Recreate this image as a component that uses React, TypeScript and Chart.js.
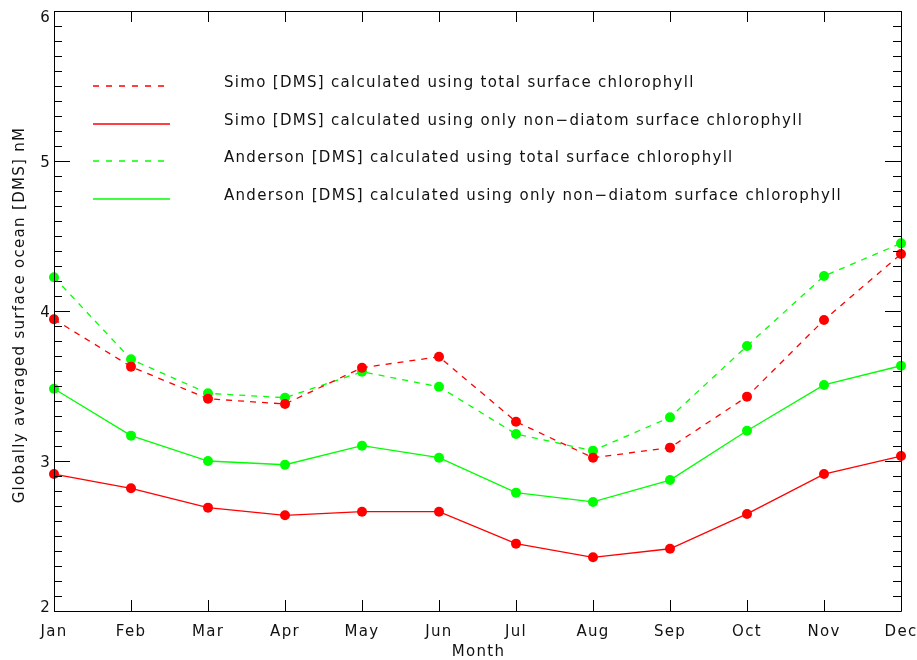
import React, { useEffect, useRef } from "react";
import { Chart, registerables } from "chart.js";

Chart.register(...registerables);

const months = ["Jan", "Feb", "Mar", "Apr", "May", "Jun", "Jul", "Aug", "Sep", "Oct", "Nov", "Dec"];

const simoTotal = [3.945, 3.629, 3.415, 3.38, 3.622, 3.695, 3.262, 3.022, 3.089, 3.429, 3.94, 4.38];
const simoNonDiatom = [2.913, 2.818, 2.689, 2.638, 2.662, 2.662, 2.449, 2.358, 2.415, 2.647, 2.913, 3.033];
const andersonTotal = [4.225, 3.678, 3.451, 3.422, 3.595, 3.495, 3.18, 3.069, 3.291, 3.767, 4.233, 4.451];
const andersonNonDiatom = [3.482, 3.169, 3.0, 2.975, 3.102, 3.022, 2.789, 2.727, 2.873, 3.202, 3.507, 3.635];

const yTickLabels = ["2", "3", "4", "5", "6"];
const yMin = 2;
const yMax = 6;

const legendLabels = [
  "Simo [DMS] calculated using total surface chlorophyll",
  "Simo [DMS] calculated using only non\u2212diatom surface chlorophyll",
  "Anderson [DMS] calculated using total surface chlorophyll",
  "Anderson [DMS] calculated using only non\u2212diatom surface chlorophyll",
];

const xTitle = "Month";
const yTitle = "Globally averaged surface ocean [DMS] nM";

const RED = "#ff0000";
const GREEN = "#00ff00";
const FONT = '15px "DejaVu Sans"';

export default function App() {
  const ref = useRef<HTMLCanvasElement | null>(null);

  useEffect(() => {
    document.body.style.margin = "0";
    const canvas = ref.current!;

    const axesPlugin = {
      id: "idlAxes",
      afterDraw(chart: any) {
        const ctx = chart.ctx as CanvasRenderingContext2D;
        const { left, right, top, bottom } = chart.chartArea;
        const xs = chart.scales.x;
        const ys = chart.scales.y;
        ctx.save();
        ctx.strokeStyle = "#000";
        ctx.lineWidth = 1;
        // frame
        ctx.beginPath();
        ctx.rect(Math.round(left) + 0.5, Math.round(top) + 0.5, Math.round(right - left), Math.round(bottom - top));
        ctx.stroke();
        // y ticks
        ctx.beginPath();
        for (let i = 0; i <= (yMax - yMin) * 10; i++) {
          const v = yMin + i / 10;
          const py = Math.round(ys.getPixelForValue(v)) + 0.5;
          const len = i % 10 === 0 ? 16 : 8;
          ctx.moveTo(left, py);
          ctx.lineTo(left + len, py);
          ctx.moveTo(right, py);
          ctx.lineTo(right - len, py);
        }
        // x ticks
        for (let i = 0; i < months.length; i++) {
          const px = Math.round(xs.getPixelForValue(i)) + 0.5;
          ctx.moveTo(px, bottom);
          ctx.lineTo(px, bottom - 11);
          ctx.moveTo(px, top);
          ctx.lineTo(px, top + 11);
        }
        ctx.stroke();

        // tick labels
        ctx.fillStyle = "#111";
        ctx.font = FONT;
        (ctx as any).letterSpacing = "1.3px";
        ctx.textBaseline = "alphabetic";
        ctx.textAlign = "right";
        yTickLabels.forEach((lab) => {
          const v = Number(lab);
          const py = ys.getPixelForValue(v);
          const base = Math.min(Math.max(py + 5.5, top + 11), bottom + 0.7);
          ctx.fillText(lab, left - 3, base);
        });
        ctx.textAlign = "center";
        months.forEach((m, i) => {
          const px = xs.getPixelForValue(i);
          ctx.fillText(m, px, bottom + 25);
        });
        ctx.fillText(xTitle, (left + right) / 2 + 1, bottom + 45);

        // y title
        ctx.save();
        ctx.translate(24, (top + bottom) / 2 + 4);
        ctx.rotate(-Math.PI / 2);
        ctx.textAlign = "center";
        ctx.fillText(yTitle, 0, 0);
        ctx.restore();

        // legend
        const styles = [
          { c: RED, d: [6, 7], end: 164 },
          { c: RED, d: [], end: 170 },
          { c: GREEN, d: [6, 7], end: 164 },
          { c: GREEN, d: [], end: 170 },
        ];
        ctx.textAlign = "left";
        ctx.lineWidth = 1.5;
        legendLabels.forEach((lab, i) => {
          const ly = top + 75 + i * 37.5;
          ctx.beginPath();
          ctx.strokeStyle = styles[i].c;
          ctx.setLineDash(styles[i].d);
          ctx.moveTo(93, Math.round(ly));
          ctx.lineTo(styles[i].end, Math.round(ly));
          ctx.stroke();
          ctx.setLineDash([]);
          ctx.fillText(lab, 224, ly + 1);
        });
        ctx.restore();
      },
    };

    const mk = (label: string, data: number[], color: string, dash: number[]) => ({
      label,
      data,
      borderColor: color,
      backgroundColor: color,
      borderDash: dash,
      borderWidth: 1.3,
      pointRadius: 5,
      pointBorderWidth: 0,
      pointBackgroundColor: color,
      tension: 0,
      fill: false,
    });

    const chart = new Chart(canvas, {
      type: "line",
      data: {
        labels: months,
        datasets: [
          mk(legendLabels[0], simoTotal, RED, [6, 6]),
          mk(legendLabels[1], simoNonDiatom, RED, []),
          mk(legendLabels[2], andersonTotal, GREEN, [6, 6]),
          mk(legendLabels[3], andersonNonDiatom, GREEN, []),
        ],
      },
      options: {
        animation: false,
        responsive: false,
        devicePixelRatio: 1,
        layout: { padding: { top: 11, right: 16, left: 0, bottom: 0 } },
        plugins: { legend: { display: false }, tooltip: { enabled: false } },
        events: [],
        scales: {
          x: {
            type: "category",
            offset: false,
            grid: { display: false },
            border: { display: false },
            ticks: { display: false },
            afterFit: (s: any) => {
              s.height = 49;
            },
          },
          y: {
            min: yMin,
            max: yMax,
            grid: { display: false },
            border: { display: false },
            ticks: { display: false, stepSize: 1 },
            afterFit: (s: any) => {
              s.width = 54;
            },
          },
        },
      } as any,
      plugins: [axesPlugin],
    });
    return () => chart.destroy();
  }, []);

  return (
    <div style={{ width: 917, height: 660, background: "#fff" }}>
      <canvas ref={ref} width={917} height={660} style={{ display: "block" }} />
    </div>
  );
}
